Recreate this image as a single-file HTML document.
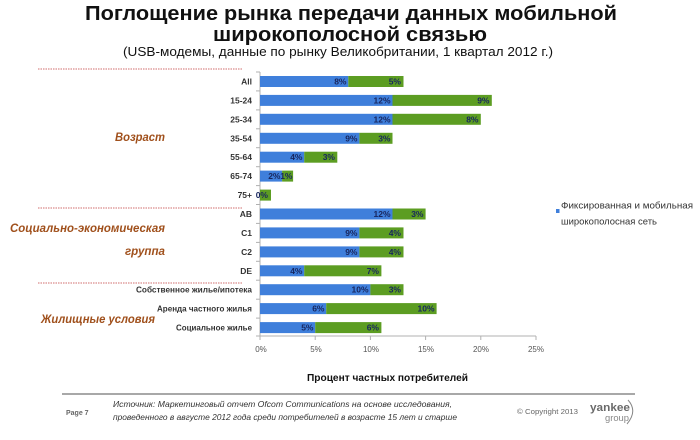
<!DOCTYPE html>
<html><head><meta charset="utf-8"><style>
html,body{margin:0;padding:0;background:#fff;}
svg{display:block;}
text{font-family:"Liberation Sans","Noto Sans CJK SC",sans-serif;}
</style></head><body>
<svg width="700" height="440" viewBox="0 0 700 440" xmlns="http://www.w3.org/2000/svg">
<rect width="700" height="440" fill="#fff"/>
<!-- titles -->
<text x="85" y="20" font-size="20" font-weight="bold" fill="#111" textLength="532" lengthAdjust="spacingAndGlyphs">Поглощение рынка передачи данных мобильной</text>
<text x="213" y="41" font-size="20" font-weight="bold" fill="#111" textLength="274" lengthAdjust="spacingAndGlyphs">широкополосной связью</text>
<text x="123" y="56" font-size="12.5" fill="#111" textLength="430" lengthAdjust="spacingAndGlyphs">(USB-модемы, данные по рынку Великобритании, 1 квартал 2012 г.)</text>

<!-- dotted separators -->
<g stroke="#d98a8a" stroke-width="1.2" stroke-dasharray="1.5,1">
<line x1="38" y1="69" x2="243" y2="69"/>
<line x1="38" y1="208" x2="243" y2="208"/>
<line x1="38" y1="283" x2="243" y2="283"/>
</g>

<!-- group labels -->
<g font-weight="bold" font-style="italic" fill="#a0501c" font-size="12">
<text x="115" y="141" textLength="50" lengthAdjust="spacingAndGlyphs">Возраст</text>
<text x="10" y="232" textLength="155" lengthAdjust="spacingAndGlyphs">Социально-экономическая</text>
<text x="125" y="255" textLength="40" lengthAdjust="spacingAndGlyphs">группа</text>
<text x="41" y="323" textLength="114" lengthAdjust="spacingAndGlyphs">Жилищные условия</text>
</g>

<!-- axes -->
<g stroke="#b0b0b0" stroke-width="1">
<line x1="260" y1="72" x2="260" y2="336"/>
<line x1="260" y1="336" x2="536" y2="336"/>
<line x1="256" y1="72" x2="260" y2="72"/>
<line x1="256" y1="90.9" x2="260" y2="90.9"/>
<line x1="256" y1="109.9" x2="260" y2="109.9"/>
<line x1="256" y1="128.8" x2="260" y2="128.8"/>
<line x1="256" y1="147.7" x2="260" y2="147.7"/>
<line x1="256" y1="166.7" x2="260" y2="166.7"/>
<line x1="256" y1="185.6" x2="260" y2="185.6"/>
<line x1="256" y1="204.5" x2="260" y2="204.5"/>
<line x1="256" y1="223.4" x2="260" y2="223.4"/>
<line x1="256" y1="242.4" x2="260" y2="242.4"/>
<line x1="256" y1="261.3" x2="260" y2="261.3"/>
<line x1="256" y1="280.2" x2="260" y2="280.2"/>
<line x1="256" y1="299.2" x2="260" y2="299.2"/>
<line x1="256" y1="318.1" x2="260" y2="318.1"/>
<line x1="256" y1="336" x2="260" y2="336"/>
<line x1="260" y1="336" x2="260" y2="340"/>
<line x1="315.2" y1="336" x2="315.2" y2="340"/>
<line x1="370.4" y1="336" x2="370.4" y2="340"/>
<line x1="425.6" y1="336" x2="425.6" y2="340"/>
<line x1="480.8" y1="336" x2="480.8" y2="340"/>
<line x1="536" y1="336" x2="536" y2="340"/>
</g>

<!-- tick labels -->
<g font-size="8" fill="#555" text-anchor="middle">
<text x="261" y="352">0%</text>
<text x="316" y="352">5%</text>
<text x="371" y="352">10%</text>
<text x="426" y="352">15%</text>
<text x="481" y="352">20%</text>
<text x="536" y="352">25%</text>
</g>

<!-- category labels -->
<g font-size="8.5" fill="#333" text-anchor="end" font-weight="bold">
<text x="252" y="84.5">All</text>
<text x="252" y="103.4">15-24</text>
<text x="252" y="122.3">25-34</text>
<text x="252" y="141.3">35-54</text>
<text x="252" y="160.2">55-64</text>
<text x="252" y="179.1">65-74</text>
<text x="252" y="198.1">75+</text>
<text x="252" y="217">AB</text>
<text x="252" y="235.9">C1</text>
<text x="252" y="254.9">C2</text>
<text x="252" y="273.8">DE</text>
<text x="252" y="292.7" textLength="116" lengthAdjust="spacingAndGlyphs">Собственное жилье/ипотека</text>
<text x="252" y="311.6" textLength="95" lengthAdjust="spacingAndGlyphs">Аренда частного жилья</text>
<text x="252" y="330.6" textLength="76" lengthAdjust="spacingAndGlyphs">Социальное жилье</text>
</g>

<!-- bars: blue -->
<g fill="#3f7fdb">
<rect x="260" y="76" width="88.3" height="11"/>
<rect x="260" y="94.9" width="132.5" height="11"/>
<rect x="260" y="113.8" width="132.5" height="11"/>
<rect x="260" y="132.8" width="99.4" height="11"/>
<rect x="260" y="151.7" width="44.2" height="11"/>
<rect x="260" y="170.6" width="22.1" height="11"/>
<rect x="260" y="208.5" width="132.5" height="11"/>
<rect x="260" y="227.4" width="99.4" height="11"/>
<rect x="260" y="246.4" width="99.4" height="11"/>
<rect x="260" y="265.3" width="44.2" height="11"/>
<rect x="260" y="284.2" width="110.4" height="11"/>
<rect x="260" y="303.1" width="66.2" height="11"/>
<rect x="260" y="322.1" width="55.2" height="11"/>
</g>
<!-- bars: green -->
<g fill="#5c9d22">
<rect x="348.3" y="76" width="55.2" height="11"/>
<rect x="392.5" y="94.9" width="99.3" height="11"/>
<rect x="392.5" y="113.8" width="88.3" height="11"/>
<rect x="359.4" y="132.8" width="33.1" height="11"/>
<rect x="304.2" y="151.7" width="33.1" height="11"/>
<rect x="282.1" y="170.6" width="11" height="11"/>
<rect x="260" y="189.6" width="11" height="11"/>
<rect x="392.5" y="208.5" width="33.1" height="11"/>
<rect x="359.4" y="227.4" width="44.1" height="11"/>
<rect x="359.4" y="246.4" width="44.1" height="11"/>
<rect x="304.2" y="265.3" width="77.2" height="11"/>
<rect x="370.4" y="284.2" width="33.1" height="11"/>
<rect x="326.2" y="303.1" width="110.4" height="11"/>
<rect x="315.2" y="322.1" width="66.2" height="11"/>
</g>

<!-- bar labels -->
<g font-size="8.5" font-weight="bold" fill="#18265e" text-anchor="end">
<text x="346.5" y="84.5">8%</text><text x="401" y="84.5">5%</text>
<text x="390.5" y="103.4">12%</text><text x="489.5" y="103.4">9%</text>
<text x="390.5" y="122.3">12%</text><text x="478.5" y="122.3">8%</text>
<text x="357.5" y="141.3">9%</text><text x="390.5" y="141.3">3%</text>
<text x="302.5" y="160.2">4%</text><text x="335" y="160.2">3%</text>
<text x="280.5" y="179.1">2%</text><text x="292.5" y="179.1">1%</text>
<text x="268" y="198.1">0%</text>
<text x="390.5" y="217">12%</text><text x="423.5" y="217">3%</text>
<text x="357.5" y="235.9">9%</text><text x="401" y="235.9">4%</text>
<text x="357.5" y="254.9">9%</text><text x="401" y="254.9">4%</text>
<text x="302.5" y="273.8">4%</text><text x="379" y="273.8">7%</text>
<text x="368.5" y="292.7">10%</text><text x="401" y="292.7">3%</text>
<text x="324.5" y="311.6">6%</text><text x="434.5" y="311.6">10%</text>
<text x="313.5" y="330.6">5%</text><text x="379" y="330.6">6%</text>
</g>

<!-- legend -->
<rect x="556" y="209" width="3.5" height="4" fill="#3f7fdb"/>
<text x="561" y="208.5" font-size="9.5" fill="#333" textLength="132" lengthAdjust="spacingAndGlyphs">Фиксированная и мобильная</text>
<text x="561" y="224.5" font-size="9.5" fill="#333" textLength="96" lengthAdjust="spacingAndGlyphs">широкополосная  сеть</text>

<!-- x axis title -->
<text x="307" y="381" font-size="10" font-weight="bold" fill="#111" textLength="161" lengthAdjust="spacingAndGlyphs">Процент частных потребителей</text>

<!-- footer -->
<line x1="62" y1="394" x2="635" y2="394" stroke="#a8a8a8" stroke-width="2"/>
<text x="66" y="415" font-size="7" font-weight="bold" fill="#666">Page 7</text>
<text x="113" y="407" font-size="8.5" font-style="italic" fill="#333" textLength="339" lengthAdjust="spacingAndGlyphs">Источник: Маркетинговый отчет Ofcom Communications на основе исследования,</text>
<text x="113" y="420" font-size="8.5" font-style="italic" fill="#333" textLength="344" lengthAdjust="spacingAndGlyphs">проведенного в августе 2012 года среди потребителей в возрасте 15 лет и старше</text>
<text x="517" y="414" font-size="7" fill="#666" textLength="61" lengthAdjust="spacingAndGlyphs">© Copyright 2013</text>
<text x="590" y="411" font-size="11" font-weight="bold" fill="#6a6a6a" textLength="40" lengthAdjust="spacingAndGlyphs">yankee</text>
<text x="605" y="421" font-size="9" fill="#888" textLength="24" lengthAdjust="spacingAndGlyphs">group</text>
<path d="M628,400 Q638,411 627,424" fill="none" stroke="#888" stroke-width="1"/>
</svg>
</body></html>
